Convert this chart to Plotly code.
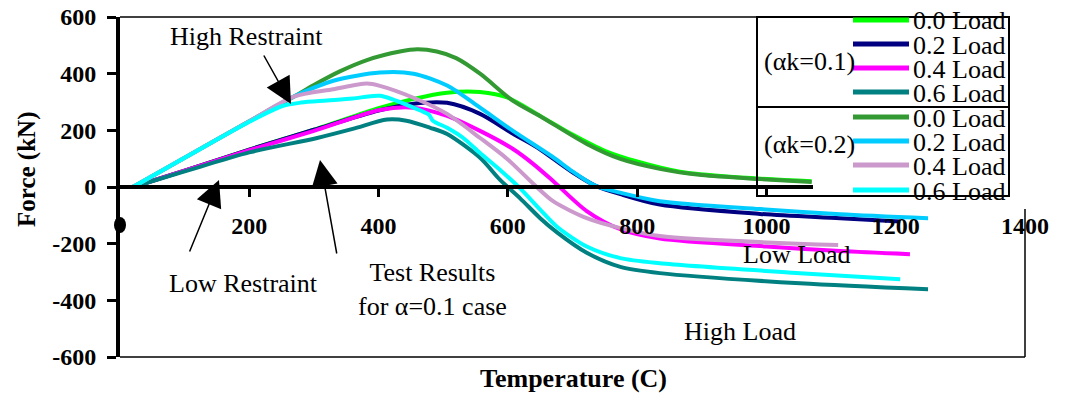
import plotly.graph_objects as go

# ---------------- data (Temperature in C, Force in kN) ----------------
t_00_a1 = [20, 100, 200, 300, 400, 454, 506, 557, 600, 650, 700, 750, 800, 866, 950, 1070]
f_00_a1 = [0, 58, 132, 202, 278, 311, 333, 335, 315, 251, 185, 128, 90, 54, 35, 20]

t_02_a1 = [20, 100, 200, 300, 400, 454, 506, 557, 608, 645, 670, 700, 735, 774, 835, 990, 1114, 1207]
f_02_a1 = [0, 58, 132, 202, 270, 294, 297, 258, 188, 140, 100, 52, 5, -25, -62, -95, -110, -122]

t_04_a1 = [20, 100, 200, 300, 402, 454, 506, 557, 608, 640, 670, 722, 774, 835, 1000, 1114, 1222]
f_04_a1 = [0, 58, 130, 198, 272, 280, 251, 198, 134, 80, 21, -85, -149, -182, -210, -226, -237]

t_06_a1 = [20, 100, 200, 305, 360, 413, 443, 480, 506, 557, 588, 619, 650, 676, 722, 774, 835, 1052, 1250]
f_06_a1 = [0, 55, 122, 173, 205, 238, 234, 209, 187, 103, 25, -40, -110, -160, -232, -282, -304, -340, -361]

t_00_a2 = [20, 100, 200, 268, 300, 340, 382, 433, 460, 490, 520, 557, 608, 650, 722, 774, 835, 900, 990, 1070]
f_00_a2 = [0, 103, 232, 318, 360, 408, 448, 478, 486, 478, 455, 400, 304, 250, 152, 99, 64, 42, 28, 18]

t_02_a2 = [20, 100, 200, 268, 330, 402, 454, 506, 557, 608, 670, 700, 735, 774, 835, 990, 1114, 1250]
f_02_a2 = [0, 103, 232, 318, 375, 404, 400, 358, 280, 198, 105, 55, 5, -20, -50, -78, -96, -110]

t_04_a2 = [20, 100, 200, 268, 330, 382, 402, 454, 506, 557, 599, 640, 670, 722, 774, 835, 1111]
f_04_a2 = [0, 103, 232, 318, 345, 365, 357, 315, 258, 173, 99, 10, -50, -110, -145, -173, -205]

t_06_a2 = [20, 100, 200, 250, 280, 320, 360, 402, 454, 478, 484, 506, 531, 557, 588, 619, 650, 676, 722, 774, 835, 1052, 1207]
f_06_a2 = [0, 103, 230, 285, 298, 305, 312, 322, 280, 255, 234, 209, 173, 120, 60, -5, -80, -140, -210, -251, -269, -304, -326]

load_labels = ["0.0 Load", "0.2 Load", "0.4 Load", "0.6 Load"]
group_labels = ["(αk=0.1)", "(αk=0.2)"]
colors_a1 = ["#00FF00", "#000080", "#FF00FF", "#008080"]
colors_a2 = ["#339933", "#00CCFF", "#CC99CC", "#00FFFF"]

x_ticks = [200, 400, 600, 800, 1000, 1200, 1400]
y_ticks = [-600, -400, -200, 0, 200, 400, 600]
y_tick_labels = ["-600", "-400", "-200", "0", "200", "400", "600"]

series_a1 = [(t_00_a1, f_00_a1), (t_02_a1, f_02_a1), (t_04_a1, f_04_a1), (t_06_a1, f_06_a1)]
series_a2 = [(t_00_a2, f_00_a2), (t_02_a2, f_02_a2), (t_04_a2, f_04_a2), (t_06_a2, f_06_a2)]

# ---------------- layout helpers ----------------
W, H = 1068, 396
ML, MR, MT, MB = 120, 43, 17, 39
PW, PH = W - ML - MR, H - MT - MB


def px(x):
    return (x - ML) / PW


def py(y):
    return (H - MB - y) / PH


SERIF = "Liberation Serif"

fig = go.Figure()
for i, (t, f) in enumerate(series_a1):
    fig.add_trace(go.Scatter(x=t, y=f, mode="lines", name=load_labels[i] + " " + group_labels[0],
                             line=dict(color=colors_a1[i], width=4, shape="spline", smoothing=0.8),
                             showlegend=False))
for i, (t, f) in enumerate(series_a2):
    fig.add_trace(go.Scatter(x=t, y=f, mode="lines", name=load_labels[i] + " " + group_labels[1],
                             line=dict(color=colors_a2[i], width=4, shape="spline", smoothing=0.8),
                             showlegend=False))

shapes = []
# frame pieces
shapes.append(dict(type="line", xref="paper", yref="paper", x0=0, x1=1, y0=0, y1=0,
                   line=dict(color="black", width=1.5), layer="above"))
shapes.append(dict(type="line", xref="paper", yref="paper", x0=0, x1=px(757), y0=1, y1=1,
                   line=dict(color="black", width=1.5), layer="above"))
# white cover behind legend (hides the axis line there)
shapes.append(dict(type="rect", xref="paper", yref="paper", x0=px(813), x1=px(1034), y0=py(201), y1=py(10),
                   fillcolor="white", line=dict(width=0), layer="above"))
shapes.append(dict(type="line", xref="paper", yref="paper", x0=1, x1=1, y0=0, y1=py(209),
                   line=dict(color="black", width=1.5), layer="above"))
# legend box
shapes.append(dict(type="rect", xref="paper", yref="paper", x0=px(757), x1=px(1009), y0=py(196), y1=py(17),
                   line=dict(color="black", width=2), fillcolor="rgba(0,0,0,0)", layer="above"))
shapes.append(dict(type="line", xref="paper", yref="paper", x0=px(757), x1=px(1009), y0=py(107), y1=py(107),
                   line=dict(color="black", width=2), layer="above"))
# odd blob where the x "0" label sits
shapes.append(dict(type="circle", xref="paper", yref="paper", x0=px(114), x1=px(126), y0=py(233), y1=py(217),
                   fillcolor="black", line=dict(width=0), layer="above"))

annotations = []
entry_y = [20, 44, 68, 92, 117, 141, 165, 190]
all_colors = colors_a1 + colors_a2
for k in range(8):
    yy = entry_y[k]
    shapes.append(dict(type="line", xref="paper", yref="paper", x0=px(853), x1=px(909), y0=py(yy), y1=py(yy),
                       line=dict(color=all_colors[k], width=5), layer="above"))
    annotations.append(dict(xref="paper", yref="paper", x=px(911), y=py(yy + 1), text=load_labels[k % 4],
                            showarrow=False, xanchor="left", yanchor="middle",
                            font=dict(family=SERIF, size=26, color="black")))
for g, yy in zip(group_labels, [62, 144]):
    annotations.append(dict(xref="paper", yref="paper", x=px(762), y=py(yy), text=g, showarrow=False,
                            xanchor="left", yanchor="middle", font=dict(family=SERIF, size=26, color="black")))

txt_font = dict(family=SERIF, size=26, color="black")


def label(xc, yc, text, **kw):
    d = dict(xref="paper", yref="paper", x=px(xc), y=py(yc), text=text, showarrow=False,
             xanchor="center", yanchor="middle", font=txt_font)
    d.update(kw)
    return d


def arrow(xt, yt, ax, ay):
    return dict(xref="paper", yref="paper", x=px(xt), y=py(yt), ax=ax, ay=ay, text="", showarrow=True,
                arrowhead=2, arrowsize=3.5, arrowwidth=1.5, arrowcolor="black",
                xanchor="center", yanchor="middle")


annotations += [
    label(246, 36, "High Restraint"),
    label(243, 283, "Low Restraint"),
    label(432, 289, "Test Results<br>for α=0.1 case"),
    label(797, 255, "Low Load"),
    label(740, 331, "High Load"),
    arrow(291, 104, -28, -50),
    arrow(219, 180, -30, 73),
    arrow(320, 160, 17, 95),
    label(573, 378, "<b>Temperature (C)</b>", font=dict(family=SERIF, size=26, color="black")),
    label(27, 170, "<b>Force (kN)</b>", textangle=-90, font=dict(family=SERIF, size=25, color="black")),
]

fig.update_layout(
    width=W, height=H,
    margin=dict(l=ML, r=MR, t=MT, b=MB, pad=0),
    paper_bgcolor="white", plot_bgcolor="white",
    showlegend=False,
    shapes=shapes, annotations=annotations,
    xaxis=dict(range=[0, 1400], tickvals=x_ticks, showgrid=False, zeroline=False, automargin=False,
               showline=True, linecolor="black", linewidth=4,
               anchor="free", position=0.5,
               ticks="outside", ticklen=8, tickwidth=3, tickcolor="black",
               ticklabelstandoff=8,
               tickfont=dict(family=SERIF, size=24, color="black", weight="bold")),
    yaxis=dict(range=[-600, 600], tickvals=y_ticks, ticktext=y_tick_labels,
               showgrid=False, zeroline=False, automargin=False,
               showline=True, linecolor="black", linewidth=4,
               ticks="outside", ticklen=9, tickwidth=3, tickcolor="black",
               ticklabelstandoff=6,
               tickfont=dict(family=SERIF, size=24, color="black", weight="bold")),
)

fig.write_html("out.html")
